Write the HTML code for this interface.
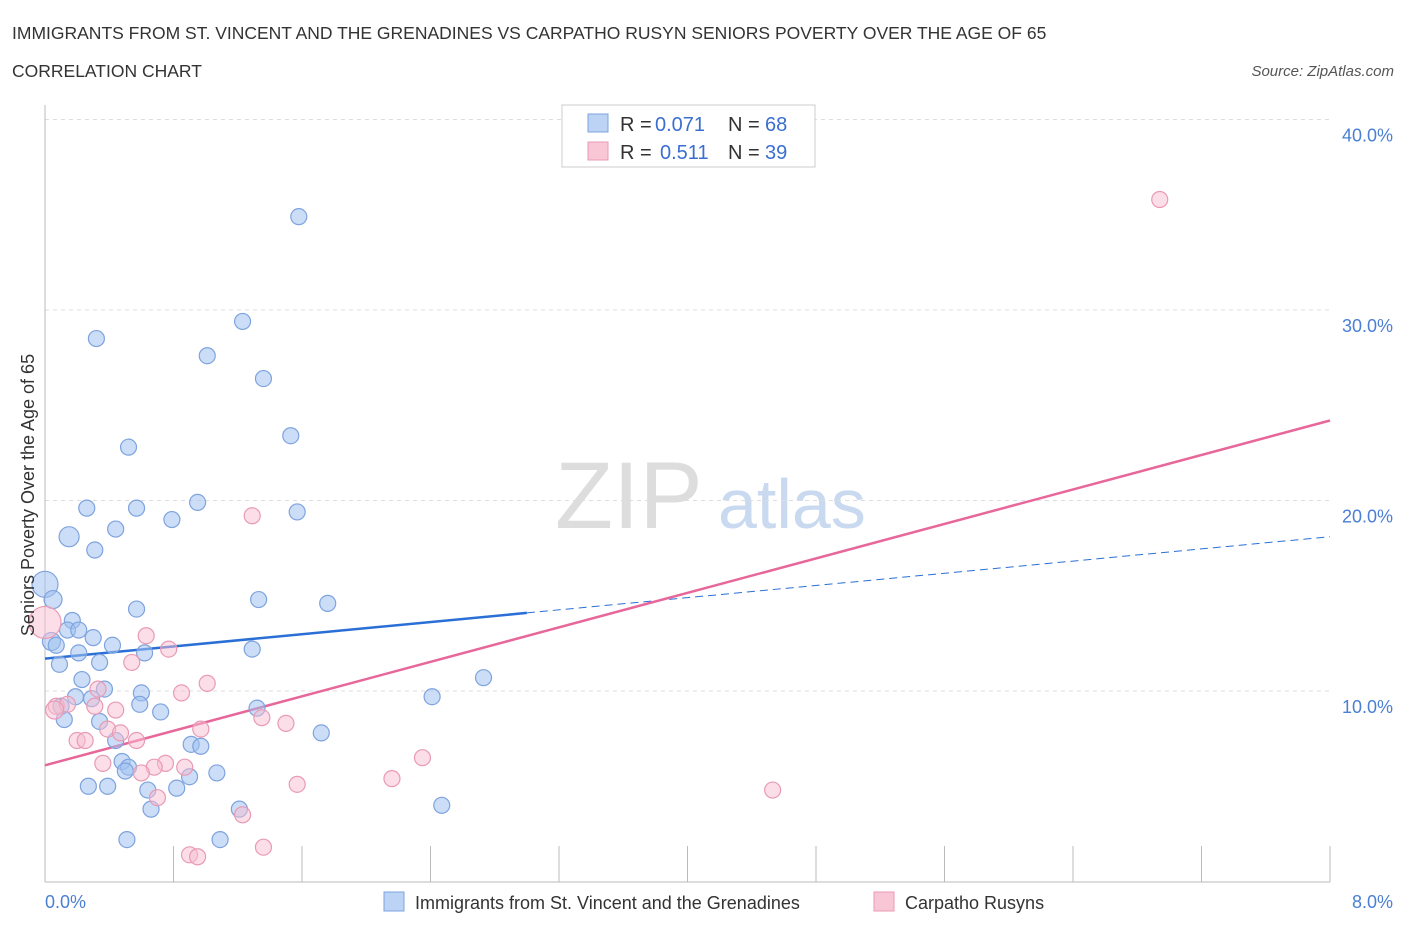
<!DOCTYPE html>
<html><head><meta charset="utf-8"><style>
body{margin:0;background:#fff;font-family:"Liberation Sans",sans-serif;}
svg text{font-family:"Liberation Sans",sans-serif;}
</style></head><body>
<svg id="chart" width="1406" height="930" xmlns="http://www.w3.org/2000/svg">
<text x="12" y="39" font-size="17.5" fill="#333">IMMIGRANTS FROM ST. VINCENT AND THE GRENADINES VS CARPATHO RUSYN SENIORS POVERTY OVER THE AGE OF 65</text>
<text x="12" y="77" font-size="17.5" fill="#333">CORRELATION CHART</text>
<text x="1394" y="76" font-size="15" fill="#555" font-style="italic" text-anchor="end">Source: ZipAtlas.com</text>
<text x="555" y="528" font-size="95" fill="#ddd" font-family="Liberation Serif">ZIP</text>
<text x="718" y="528" font-size="70" fill="#c9d9f0">atlas</text>
<g id="grid"></g>
<g id="axes"></g>
<g id="lines"></g>
<g id="pts"></g>
<text transform="translate(34,495) rotate(-90)" font-size="18" fill="#333" text-anchor="middle">Seniors Poverty Over the Age of 65</text>
<text x="45" y="908" font-size="18" fill="#4a7fd4">0.0%</text>
<text x="1393" y="908" font-size="18" fill="#4a7fd4" text-anchor="end">8.0%</text>
<g>
<rect x="562" y="105" width="253" height="62" fill="#fff" stroke="#ccc"/>
<rect x="588" y="114" width="20" height="18" fill="#bcd3f5" stroke="#7ea3de"/>
<rect x="588" y="142" width="20" height="18" fill="#f9c6d6" stroke="#e99ab5"/>
<text x="620" y="131" font-size="20" fill="#333">R =</text>
<text x="655" y="131" font-size="20" fill="#3a6fd0">0.071</text>
<text x="728" y="131" font-size="20" fill="#333">N =</text>
<text x="765" y="131" font-size="20" fill="#3a6fd0">68</text>
<text x="620" y="159" font-size="20" fill="#333">R =</text>
<text x="660" y="159" font-size="20" fill="#3a6fd0">0.511</text>
<text x="728" y="159" font-size="20" fill="#333">N =</text>
<text x="765" y="159" font-size="20" fill="#3a6fd0">39</text>
</g>
<g>
<rect x="384" y="892" width="20" height="19" fill="#bcd3f5" stroke="#7ea3de"/>
<text x="415" y="909" font-size="18" fill="#333">Immigrants from St. Vincent and the Grenadines</text>
<rect x="874" y="892" width="20" height="19" fill="#f9c6d6" stroke="#e99ab5"/>
<text x="905" y="909" font-size="18" fill="#333">Carpatho Rusyns</text>
</g>
</svg>
<script>
const yTicks=[10,20,30,40];
const xTicks=[0,0.8,1.6,2.4,3.2,4.0,4.8,5.6,6.4,7.2,8.0];
const blueX=[1.58,1.23,0.32,1.01,1.36,1.53,0.52,0.95,0.26,0.57,1.57,0.79,0.44,0.15,0.31,0.0,0.05,1.33,1.76,0.57,0.17,0.14,0.21,0.30,0.04,0.07,0.42,1.29,0.21,0.62,0.09,0.34,2.73,0.23,0.37,0.60,0.29,0.19,2.41,0.59,0.10,0.72,1.32,0.12,0.34,1.72,0.44,0.91,0.97,0.48,0.52,0.50,1.07,0.90,0.27,0.39,0.82,0.64,0.66,1.21,2.47,0.51,1.09];
const blueY=[34.9,29.4,28.5,27.6,26.4,23.4,22.8,19.9,19.6,19.6,19.4,19.0,18.5,18.1,17.4,15.6,14.8,14.8,14.6,14.3,13.7,13.2,13.2,12.8,12.6,12.4,12.4,12.2,12.0,12.0,11.4,11.5,10.7,10.6,10.1,9.9,9.6,9.7,9.7,9.3,9.2,8.9,9.1,8.5,8.4,7.8,7.4,7.2,7.1,6.3,6.0,5.8,5.7,5.5,5.0,5.0,4.9,4.8,3.8,3.8,4.0,2.2,2.2];
const blueR=[8,8,8,8,8,8,8,8,8,8,8,8,8,10,8,13,9,8,8,8,8,8,8,8,9,8,8,8,8,8,8,8,8,8,8,8,8,8,8,8,8,8,8,8,8,8,8,8,8,8,8,8,8,8,8,8,8,8,8,8,8,8,8];
const pinkX=[6.94,1.29,0.63,0.77,0.54,1.01,0.33,0.85,0.07,0.31,0.44,0.14,1.35,1.50,0.97,0.39,0.47,0.20,0.25,0.57,2.35,0.36,0.75,0.68,0.87,0.60,2.16,1.57,4.53,0.70,1.23,1.36,0.90,0.95,0.0,0.06];
const pinkY=[35.8,19.2,12.9,12.2,11.5,10.4,10.1,9.9,9.2,9.2,9.0,9.3,8.6,8.3,8.0,8.0,7.8,7.4,7.4,7.4,6.5,6.2,6.2,6.0,6.0,5.7,5.4,5.1,4.8,4.4,3.5,1.8,1.4,1.3,13.6,9.0];
const pinkR=[8,8,8,8,8,8,8,8,8,8,8,8,8,8,8,8,8,8,8,8,8,8,8,8,8,8,8,8,8,8,8,8,8,8,16,9];
const blueFit=[11.7,13.98,3.0,18.1];
const pinkFit=[6.1,24.2];
const X=v=>45+v/8*1285, Y=v=>881.5-v/10*190.5;
const NS='http://www.w3.org/2000/svg';
function mk(p,t,a){const e=document.createElementNS(NS,t);for(const k in a)e.setAttribute(k,a[k]);document.getElementById(p).appendChild(e);return e;}
yTicks.forEach(t=>{
const g=mk('grid','line',{x1:45,x2:1330,y1:Y(t),y2:Y(t),stroke:'#ddd','stroke-dasharray':'4,4'});


const l=mk('axes','text',{x:1393,y:Y(t)+22,'font-size':18,fill:'#4a7fd4','text-anchor':'end'});l.textContent=t.toFixed(1)+'%';


});
const ax=mk('axes','line',{x1:45,x2:1330,y1:882,y2:882,stroke:'#bbb'});


const ay=mk('axes','line',{x1:45,x2:45,y1:105,y2:882,stroke:'#bbb'});


xTicks.forEach(t=>{const e=mk('axes','line',{x1:X(t),x2:X(t),y1:846,y2:882,stroke:'#bbb'});

});
function dot(x,y,r,f,s,n){const c=mk('pts','circle',{cx:X(x),cy:Y(y),r:r,fill:f,stroke:s,'stroke-width':1.2});

}
blueX.forEach((x,i)=>dot(x,blueY[i],blueR[i],'rgba(160,193,240,0.55)','#7ea3de','blue-point'));
pinkX.forEach((x,i)=>dot(x,pinkY[i],pinkR[i],'rgba(248,190,208,0.5)','#e99ab5','pink-point'));
const bMid=blueFit[0]+(blueFit[3]-blueFit[0])*blueFit[2]/8;
const b1=mk('lines','line',{x1:X(0),y1:Y(blueFit[0]),x2:X(blueFit[2]),y2:Y(bMid),stroke:'#2a6fd6','stroke-width':2.5});


const b2=mk('lines','line',{x1:X(blueFit[2]),y1:Y(bMid),x2:X(8),y2:Y(blueFit[3]),stroke:'#2a6fd6','stroke-width':1,'stroke-dasharray':'8,5'});


const p1=mk('lines','line',{x1:X(0),y1:Y(pinkFit[0]),x2:X(8),y2:Y(pinkFit[1]),stroke:'#e8679a','stroke-width':2.5});


</script>
</body></html>
